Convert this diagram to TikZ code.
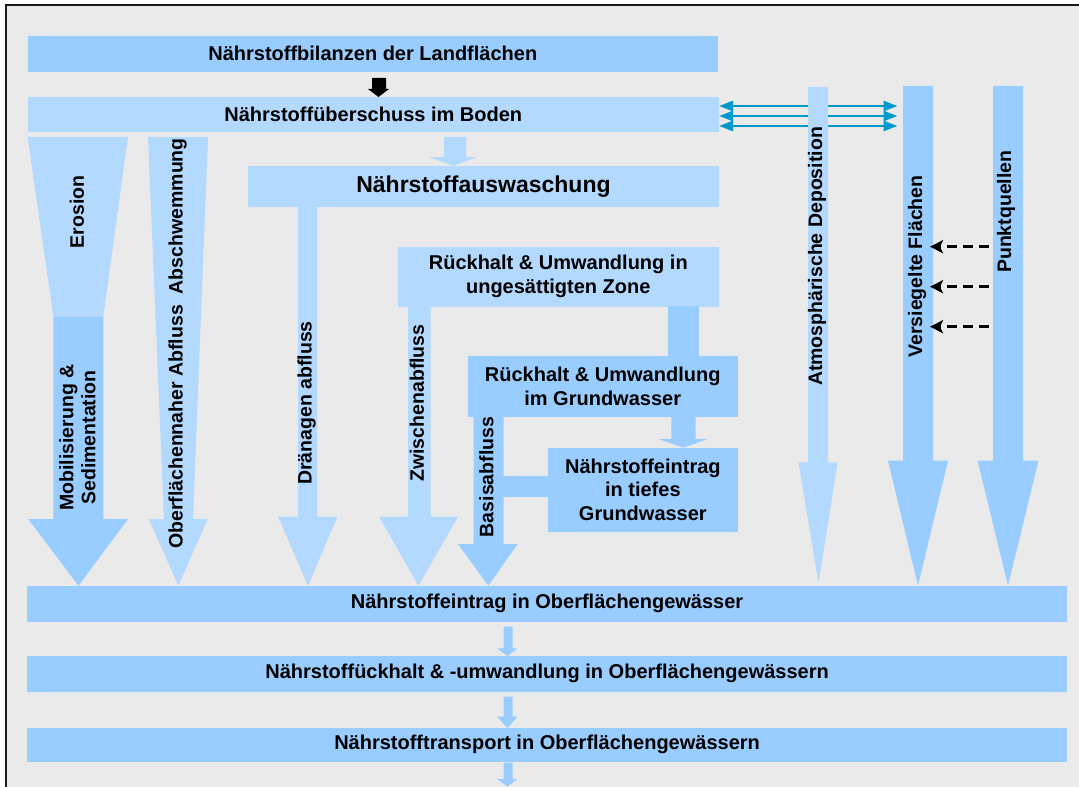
\documentclass[tikz,border=0pt]{standalone}
\usepackage{fontspec}
\setmainfont{Liberation Sans}
\usetikzlibrary{arrows.meta,patterns}
\pgfdeclarepatternformonly{stip}{\pgfqpoint{0bp}{0bp}}{\pgfqpoint{2bp}{2bp}}{\pgfqpoint{2bp}{2bp}}{\pgfpathrectangle{\pgfqpoint{0bp}{0bp}}{\pgfqpoint{1bp}{1bp}}\pgfusepath{fill}}
\definecolor{lb}{HTML}{99CCFF}
\definecolor{lbd}{HTML}{B4D9FF}
\definecolor{bgc}{HTML}{EAEAEA}
\definecolor{tealc}{HTML}{0099CC}
\tikzset{
  solidbox/.style={fill=lb, inner sep=0pt, outer sep=0pt, align=center,
    font=\bfseries\fontsize{20bp}{24bp}\selectfont},
  dotbox/.style={solidbox, fill=lbd},
  dotfill/.style={fill=lbd},
  solidfill/.style={fill=lb},
  vlabel/.style={rotate=90, inner sep=0pt, align=center,
    font=\bfseries\fontsize{19.5bp}{22bp}\selectfont},
  tealarrow/.style={draw=tealc, line width=2.6bp,
    {Triangle[length=14bp,width=10bp]}-{Triangle[length=14bp,width=10bp]}},
  dasharrow/.style={draw=black, line width=2.6bp, dash pattern=on 10bp off 6bp,
    -{Stealth[length=13bp,width=13bp,inset=3bp]}}
}
\begin{document}
\begin{tikzpicture}[x=1bp,y=-1bp]
\useasboundingbox (0,0) rectangle (1079,787);
\fill[white] (0,0) rectangle (1079,787);
\fill[bgc] (6,5) rectangle (1079,787);
\draw[line width=2bp, black!90] (6,787) -- (6,5) -- (1079,5);

% top box
\node[solidbox, minimum width=690.4bp, minimum height=35.7bp] (bil) at (372.8,53.85) {Nährstoffbilanzen der Landflächen};
% black arrow
\fill[black] (372,78) -- (386,78) -- (386,89) -- (389,89) -- (378.5,97) -- (368,89) -- (372,89) -- cycle;

% teal double arrows
\coordinate (tl1) at (719,106); \coordinate (tr1) at (897.5,106);
\coordinate (tl2) at (719,116); \coordinate (tr2) at (897.5,116);
\coordinate (tl3) at (719,126); \coordinate (tr3) at (897.5,126);
\draw[tealarrow] (tl1) -- (tr1);
\draw[tealarrow] (tl2) -- (tr2);
\draw[tealarrow] (tl3) -- (tr3);

% soil surplus
\node[dotbox, minimum width=691.4bp, minimum height=35bp] (ub) at (373.3,114.5) {Nährstoffüberschuss im Boden};
% small dotted arrow
\path[dotfill] (444,137) -- (466,137) -- (466,157) -- (477,157) -- (453,166) -- (429,157) -- (444,157) -- cycle;
% leaching box
\node[dotbox, minimum width=471bp, minimum height=41bp, font=\bfseries\fontsize{23bp}{26bp}\selectfont] (aus) at (483.5,186.5) {Nährstoffauswaschung};

% erosion funnel + solid arrow
\path[dotfill] (27.6,137) -- (128,137) -- (103.3,316.7) -- (53.4,316.7) -- cycle;
\path[solidfill] (53.4,316.7) -- (103.3,316.7) -- (103.3,519) -- (128,519) -- (78.5,585.7) -- (28.2,519) -- (53.4,519) -- cycle;
% surface runoff
\path[dotfill] (148,137) -- (208,137) -- (193,519) -- (207.7,519) -- (178.4,585.7) -- (148.8,519) -- (164,519) -- cycle;
% drainage
\path[dotfill] (298,207) -- (317,207) -- (317,516.7) -- (337.5,516.7) -- (308,585.7) -- (278,516.7) -- (298,516.7) -- cycle;

% unsaturated zone
\node[dotbox, minimum width=321bp, minimum height=60bp] (uz) at (558.3,276.7) {Rückhalt \& Umwandlung in\\ungesättigten Zone};
% interflow
\path[dotfill] (408,306.7) -- (430.5,306.7) -- (430.5,516.7) -- (458,516.7) -- (418.5,585.7) -- (379,516.7) -- (408,516.7) -- cycle;
% connector uz -> gw
\path[solidfill] (668,306) rectangle (699,357);
% groundwater
\node[solidbox, minimum width=270bp, minimum height=60.7bp] (gw) at (602.7,386.35) {Rückhalt \& Umwandlung\\im Grundwasser};
% arrow gw -> deep
\path[solidfill] (671.3,416) -- (695.7,416) -- (695.7,439) -- (707.8,439) -- (683.5,447.7) -- (658.6,439) -- (671.3,439) -- cycle;
% deep groundwater
\node[solidbox, minimum width=189.7bp, minimum height=84bp, font=\bfseries\fontsize{20bp}{23.5bp}\selectfont] (tg) at (642.85,489.7) {Nährstoffeintrag\\in tiefes\\Grundwasser};
% base flow
\path[solidfill] (473.6,416) -- (503.5,416) -- (503.5,544) -- (517.6,544) -- (488.4,585.7) -- (458,544) -- (473.6,544) -- cycle;
\path[solidfill] (503,476) rectangle (548.5,496.7);

% atmospheric deposition
\path[dotfill] (808,87) -- (828,87) -- (828,462.3) -- (837.7,462.3) -- (818.5,583) -- (798.5,462.3) -- (808,462.3) -- cycle;
% sealed surfaces
\path[solidfill] (903,86) -- (933,86) -- (933,460.7) -- (948,460.7) -- (918,585.7) -- (888,460.7) -- (903,460.7) -- cycle;
% point sources
\path[solidfill] (993,86) -- (1023,86) -- (1023,460.7) -- (1038.5,460.7) -- (1008,585.7) -- (977.6,460.7) -- (993,460.7) -- cycle;

% dashed arrows
\coordinate (pq1) at (988.6,246.7); \coordinate (vf1) at (930,246.7);
\coordinate (pq2) at (988.6,286.7); \coordinate (vf2) at (930,286.7);
\coordinate (pq3) at (988.6,326.7); \coordinate (vf3) at (930,326.7);
\draw[dasharrow] (pq1) -- (vf1);
\draw[dasharrow] (pq2) -- (vf2);
\draw[dasharrow] (pq3) -- (vf3);

% vertical labels
\node[vlabel] (lero) at (77,212) {Erosion};
\node[vlabel] (lmob) at (77.5,437.5) {Mobilisierung \&\\Sedimentation};
\node[vlabel] (lobf) at (177.5,343.5) {Oberflächennaher Abfluss\ \ Abschwemmung};
\node[vlabel] (ldra) at (306.5,403) {Dränagen abfluss};
\node[vlabel] (lzwi) at (417,403) {Zwischenabfluss};
\node[vlabel] (lbas) at (486.5,477) {Basisabfluss};
\node[vlabel] (latm) at (817,256.5) {Atmosphärische Deposition};
\node[vlabel] (lver) at (917,266.5) {Versiegelte Flächen};
\node[vlabel] (lpkt) at (1006,211.7) {Punktquellen};

% bottom chain
\node[solidbox, minimum width=1039.2bp, minimum height=35.7bp] (ow1) at (547.1,603.85) {Nährstoffeintrag in Oberflächengewässer};
\node[solidbox, minimum width=1039.2bp, minimum height=35.7bp] (ow2) at (547.1,673.85) {Nährstoffückhalt \& -umwandlung in Oberflächengewässern};
\node[solidbox, minimum width=1039.2bp, minimum height=33.7bp] (ow3) at (547.1,744.85) {Nährstofftransport in Oberflächengewässern};
\path[solidfill] (503.6,626.7) -- (512.6,626.7) -- (512.6,648.3) -- (517.4,648.3) -- (507.5,656) -- (497,648.3) -- (503.6,648.3) -- cycle;
\path[solidfill] (503.6,696.7) -- (512.6,696.7) -- (512.6,716.7) -- (517.4,716.7) -- (507.5,728) -- (497,716.7) -- (503.6,716.7) -- cycle;
\path[solidfill] (503.6,762.7) -- (512.6,762.7) -- (512.6,779) -- (517.4,779) -- (507.5,786.5) -- (497,779) -- (503.6,779) -- cycle;
\end{tikzpicture}
\end{document}
